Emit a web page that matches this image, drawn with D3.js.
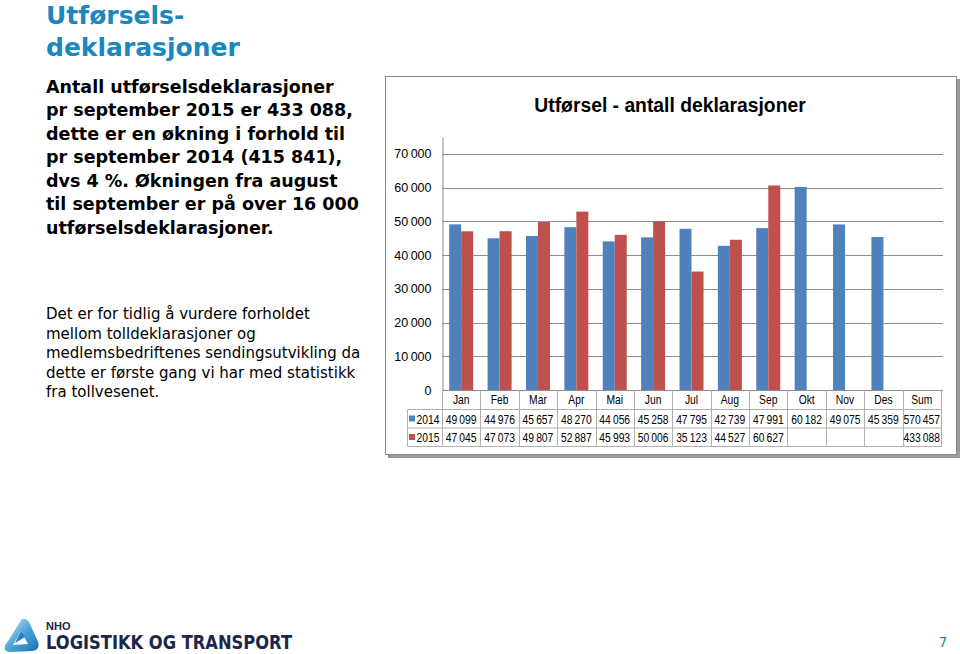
<!DOCTYPE html>
<html>
<head>
<meta charset="utf-8">
<script src="https://cdn.jsdelivr.net/npm/d3@7/dist/d3.min.js"></script>
<style>
  html, body { margin: 0; padding: 0; background: #fff; }
  svg { display: block; }
</style>
</head>
<body>
<div id="viz"></div>
<script>
var categories = ['Jan', 'Feb', 'Mar', 'Apr', 'Mai', 'Jun', 'Jul', 'Aug', 'Sep', 'Okt', 'Nov', 'Des', 'Sum'],
    seriesNames = ['2014', '2015'],
    values2014 = [49099, 44976, 45657, 48270, 44056, 45258, 47795, 42739, 47991, 60182, 49075, 45359, 570457],
    values2015 = [47045, 47073, 49807, 52887, 45993, 50006, 35123, 44527, 60627, null, null, null, 433088],
    yTicks = [0, 10000, 20000, 30000, 40000, 50000, 60000, 70000],
    headingLines = ['Utførsels-', 'deklarasjoner'],
    boldLines = [
        'Antall utførselsdeklarasjoner',
        'pr september 2015 er 433 088,',
        'dette er en økning i forhold til',
        'pr september 2014 (415 841),',
        'dvs 4 %. Økningen fra august',
        'til september er på over 16 000',
        'utførselsdeklarasjoner.'
    ],
    plainLines = [
        'Det er for tidlig å vurdere forholdet',
        'mellom tolldeklarasjoner og',
        'medlemsbedriftenes sendingsutvikling da',
        'dette er første gang vi har med statistikk',
        'fra tollvesenet.'
    ],
    chartTitle = 'Utførsel - antall deklarasjoner';

var colors = {'2014': '#4f81bd', '2015': '#c0504d'},
    chartFont = '"Liberation Sans", Arial, sans-serif',
    series = [values2014, values2015],

    fmt = function (v) {
        if (v === null) { return ''; }
        return d3.format(',')(v).replace(/,/g, '\u2009');
    },

    // narrow look for the table texts
    squeeze = function (sel, x, y) {
        sel.attr('transform', function (d, i) {
            return 'translate(' + x(d, i) + ',' + y(d, i) + ') scale(0.86,1)';
        });
    },

    svg = d3.select('#viz')
        .append('svg')
            .attr('width', 960)
            .attr('height', 654);

// left side text
var heading = svg.append('g').attr('class', 'heading');
headingLines.forEach(function (t, i) {
    heading.append('text')
        .attr('x', 46)
        .attr('y', 24 + i * 31.5)
        .style('font-family', '"DejaVu Sans", Verdana, sans-serif')
        .style('font-weight', 'bold')
        .style('font-size', '25px')
        .style('fill', '#1b87bf')
        .text(t);
});

var boldGroup = svg.append('g').attr('class', 'bold-text');
boldLines.forEach(function (t, i) {
    boldGroup.append('text')
        .attr('x', 46)
        .attr('y', 92.5 + i * 23.5)
        .style('font-family', '"DejaVu Sans", Verdana, sans-serif')
        .style('font-weight', 'bold')
        .style('font-size', '17.5px')
        .style('fill', '#000')
        .text(t);
});

var plainGroup = svg.append('g').attr('class', 'plain-text');
plainLines.forEach(function (t, i) {
    plainGroup.append('text')
        .attr('x', 46)
        .attr('y', 319 + i * 19.6)
        .style('font-family', '"DejaVu Sans", Verdana, sans-serif')
        .style('font-size', '15px')
        .style('fill', '#000')
        .text(t);
});

// chart frame with shadow
var frame = svg.append('g').attr('class', 'frame');
frame.append('rect')
    .attr('x', 388).attr('y', 79)
    .attr('width', 572).attr('height', 379)
    .style('fill', '#9a9a9a');
frame.append('rect')
    .attr('x', 385.5).attr('y', 76.5)
    .attr('width', 571).attr('height', 378)
    .style('fill', '#fff')
    .style('stroke', '#8a8a8a')
    .style('stroke-width', 1);

frame.append('text')
    .attr('text-anchor', 'middle')
    .attr('transform', 'translate(670,112) scale(0.92,1)')
    .style('font-family', chartFont)
    .style('font-weight', 'bold')
    .style('font-size', '21px')
    .style('fill', '#000')
    .text(chartTitle);

// scales
var x0 = d3.scaleBand()
        .domain(categories)
        .range([442, 941]),
    x1 = d3.scaleBand()
        .domain(seriesNames)
        .range([0, 24]),
    barOffset = (x0.bandwidth() - 24) / 2,
    y = d3.scaleLinear()
        .domain([0, 75000])
        .range([390, 137]);

// grid
var grid = svg.append('g').attr('class', 'grid');
grid.selectAll('line')
    .data(yTicks.slice(1))
    .enter().append('line')
        .attr('x1', 442).attr('x2', 943)
        .attr('y1', function (d) { return Math.round(y(d)) + 0.5; })
        .attr('y2', function (d) { return Math.round(y(d)) + 0.5; })
        .style('stroke', '#8c8c8c')
        .style('stroke-width', 1);

var yAxis = svg.append('g')
    .attr('transform', 'translate(442.5,0)')
    .call(d3.axisLeft(y).tickValues(yTicks).tickSize(0).tickPadding(11).tickFormat(fmt));
yAxis.select('.domain').style('stroke', '#8c8c8c');
yAxis.selectAll('text')
    .style('font-family', chartFont)
    .style('font-size', '12.5px')
    .style('fill', '#000');

// bars
var barsGroup = svg.append('g').attr('class', 'bars');
seriesNames.forEach(function (name, s) {
    barsGroup.selectAll('rect.s' + name)
        .data(categories.slice(0, 12).map(function (c, i) { return {cat: c, v: series[s][i]}; })
            .filter(function (d) { return d.v !== null; }))
        .enter().append('rect')
            .attr('class', 's' + name)
            .attr('x', function (d) { return x0(d.cat) + barOffset + x1(name); })
            .attr('width', x1.bandwidth())
            .attr('y', function (d) { return y(d.v); })
            .attr('height', function (d) { return y(0) - y(d.v); })
            .style('fill', colors[name]);
});

// x axis line
svg.append('line')
    .attr('x1', 442).attr('x2', 943)
    .attr('y1', 390.5).attr('y2', 390.5)
    .style('stroke', '#8c8c8c');

// data table
var table = svg.append('g').attr('class', 'table'),
    rowTop = [409.5, 428, 446.5],
    lineColor = '#b0b0b0';

table.selectAll('line.v')
    .data(categories.concat(['end']))
    .enter().append('line')
        .attr('class', 'v')
        .attr('x1', function (d, i) { return Math.round(442 + i * x0.step()) + 0.5; })
        .attr('x2', function (d, i) { return Math.round(442 + i * x0.step()) + 0.5; })
        .attr('y1', 390)
        .attr('y2', rowTop[2])
        .style('stroke', lineColor);

table.append('line')
    .attr('x1', 407.5).attr('x2', 407.5)
    .attr('y1', rowTop[0]).attr('y2', rowTop[2])
    .style('stroke', lineColor);

table.selectAll('line.h')
    .data(rowTop)
    .enter().append('line')
        .attr('class', 'h')
        .attr('x1', 407.5).attr('x2', 941.5)
        .attr('y1', function (d) { return d; })
        .attr('y2', function (d) { return d; })
        .style('stroke', lineColor);

table.selectAll('text.cat')
    .data(categories)
    .enter().append('text')
        .attr('class', 'cat')
        .attr('text-anchor', 'middle')
        .style('font-family', chartFont)
        .style('font-size', '12px')
        .style('fill', '#000')
        .text(function (d) { return d; })
        .call(squeeze,
            function (d) { return x0(d) + x0.bandwidth() / 2; },
            function () { return 404; });

seriesNames.forEach(function (name, s) {
    var ry = rowTop[s] + 14;
    table.append('rect')
        .attr('x', 409).attr('y', rowTop[s] + 6)
        .attr('width', 6).attr('height', 6)
        .style('fill', colors[name]);
    table.append('text')
        .style('font-family', chartFont)
        .style('font-size', '12px')
        .style('fill', '#000')
        .text(name)
        .call(squeeze, function () { return 416.5; }, function () { return ry; });
    table.selectAll('text.v' + name)
        .data(series[s])
        .enter().append('text')
            .attr('class', 'v' + name)
            .attr('text-anchor', 'middle')
            .style('font-family', chartFont)
            .style('font-size', '12px')
            .style('fill', '#000')
            .text(function (d) { return fmt(d); })
            .call(squeeze,
                function (d, i) { return x0(categories[i]) + x0.bandwidth() / 2; },
                function () { return ry; });
});

// logo
var logo = svg.append('g').attr('class', 'logo'),
    grad = svg.append('defs').append('linearGradient')
        .attr('id', 'logoGrad')
        .attr('x1', '0').attr('y1', '0').attr('x2', '1').attr('y2', '1');
grad.append('stop').attr('offset', '0').attr('stop-color', '#cfeaf8');
grad.append('stop').attr('offset', '0.5').attr('stop-color', '#4aa6d8');
grad.append('stop').attr('offset', '1').attr('stop-color', '#1a6fae');

logo.append('path')
    .attr('d', 'M22,619 C26,618 28,620 30,624 L38,642 C40,647 37,651 32,651 L10,652 C5,652 3,648 6,644 Z')
    .style('fill', 'url(#logoGrad)');
logo.append('path')
    .attr('d', 'M21,631 L28,644 L13,645 Z')
    .style('fill', '#fff');
logo.append('path')
    .attr('d', 'M21,631 L25,637 L15,643 Z')
    .style('fill', '#2a7fbf');

logo.append('text')
    .attr('x', 46).attr('y', 629.5)
    .style('font-family', '"Liberation Sans", Arial, sans-serif')
    .style('font-weight', 'bold')
    .style('font-size', '11px')
    .style('fill', '#1c2747')
    .text('NHO');
logo.append('text')
    .attr('x', 46).attr('y', 649)
    .attr('textLength', 246)
    .attr('lengthAdjust', 'spacingAndGlyphs')
    .style('font-family', '"DejaVu Sans", sans-serif')
    .style('font-weight', 'bold')
    .style('font-size', '20px')
    .style('fill', '#1c2747')
    .text('LOGISTIKK OG TRANSPORT');

svg.append('text')
    .attr('x', 943).attr('y', 647)
    .attr('text-anchor', 'middle')
    .style('font-family', '"DejaVu Sans", Verdana, sans-serif')
    .style('font-size', '14px')
    .style('fill', '#1b87bf')
    .text('7');
</script>
</body>
</html>
